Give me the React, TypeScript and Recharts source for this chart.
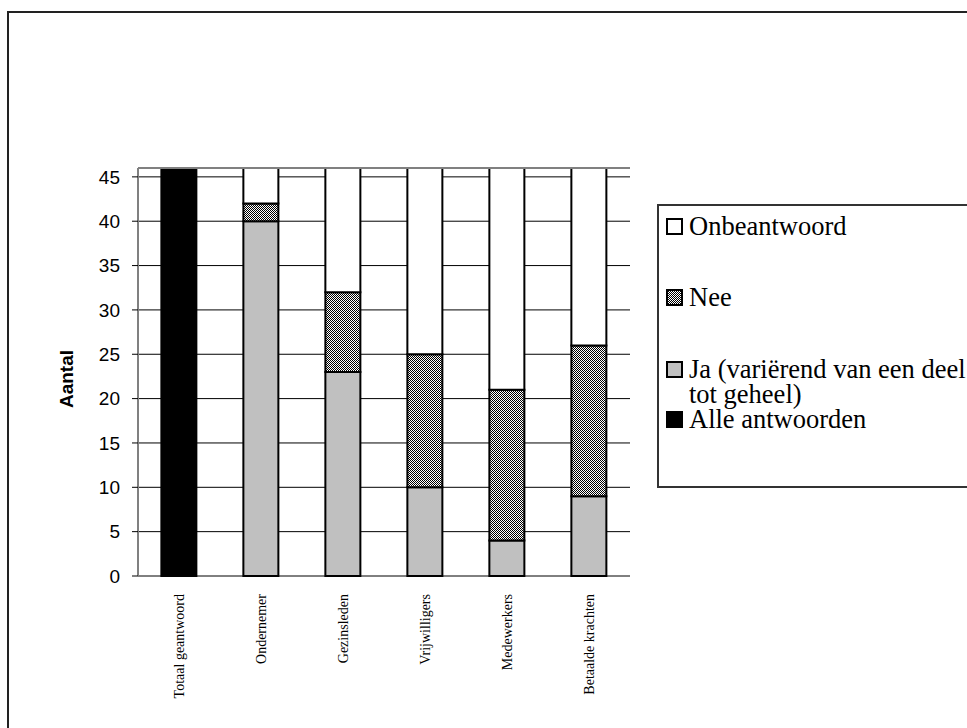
import React from "react";
import { BarChart, Bar, XAxis, YAxis, CartesianGrid, ReferenceLine, Legend } from "recharts";

// categories along the x axis
const categories = [
  "Totaal geantwoord",
  "Ondernemer",
  "Gezinsleden",
  "Vrijwilligers",
  "Medewerkers",
  "Betaalde krachten",
];

// stacked values per category (bottom to top)
const alleAntwoorden = [46, 0, 0, 0, 0, 0];
const ja = [0, 40, 23, 10, 4, 9];
const nee = [0, 2, 9, 15, 17, 17];
const onbeantwoord = [0, 4, 14, 21, 25, 20];

const yTicks = [0, 5, 10, 15, 20, 25, 30, 35, 40, 45];
const boundaryTicks = [0, 1, 2, 3, 4, 5, 6];

const SERIES = [
  { key: "alle", name: "Alle antwoorden", values: alleAntwoorden, fill: "#000000" },
  { key: "ja", name: "Ja (variërend van een deel tot geheel)", values: ja, fill: "#c0c0c0" },
  { key: "nee", name: "Nee", values: nee, fill: "url(#neeCheck)" },
  { key: "onb", name: "Onbeantwoord", values: onbeantwoord, fill: "#ffffff" },
];

const data = categories.map((cat, i) => {
  const row: Record<string, string | number> = { cat };
  SERIES.forEach((s) => {
    row[s.key] = s.values[i];
  });
  return row;
});

const SANS = "'Liberation Sans', Arial, sans-serif";
const SERIF = "'Liberation Serif', 'Times New Roman', serif";

// spacing above each legend row (top to bottom)
const LEGEND_GAPS = [8, 46, 47, 0];

function CatTick({ x, y, payload }: any) {
  return (
    <text
      x={x}
      y={y}
      transform={`rotate(-90, ${x}, ${y})`}
      textAnchor="end"
      dy="0.35em"
      fontFamily={SERIF}
      fontSize={14}
      fill="#000"
    >
      {payload.value}
    </text>
  );
}

function AantalLabel({ viewBox }: any) {
  if (!viewBox) return null;
  const cx = viewBox.x + 16;
  const cy = viewBox.y + viewBox.height / 2 + 7;
  return (
    <text
      x={cx}
      y={cy}
      transform={`rotate(-90, ${cx}, ${cy})`}
      textAnchor="middle"
      dy="0.35em"
      fontFamily={SANS}
      fontWeight="bold"
      fontSize={19}
      fill="#000"
    >
      Aantal
    </text>
  );
}

function LegendBox() {
  const items = [...SERIES].reverse();
  return (
    <div
      style={{
        width: 330,
        height: 284,
        boxSizing: "border-box",
        border: "2px solid #333",
        background: "#fff",
        fontFamily: SERIF,
        fontSize: 26.5,
        lineHeight: "25px",
        color: "#000",
      }}
    >
      {items.map((s, i) => (
        <div
          key={s.key}
          style={{ display: "flex", alignItems: "flex-start", marginTop: LEGEND_GAPS[i], paddingLeft: 7 }}
        >
          <svg width={18} height={18} style={{ flex: "none", marginTop: 4, marginRight: 5 }}>
            <rect x={1} y={1} width={15} height={15} fill={s.fill} stroke="#000" strokeWidth={2} />
          </svg>
          <span style={{ width: 290 }}>{s.name}</span>
        </div>
      ))}
    </div>
  );
}

export default function App() {
  return (
    <div style={{ position: "fixed", left: 0, top: 0, width: 967, height: 728, overflow: "hidden", background: "#fff" }}>
      {/* page frame: only the top and left edges fall inside the picture */}
      <div style={{ position: "absolute", left: 7, top: 11, width: 960, height: 2, background: "#222" }} />
      <div style={{ position: "absolute", left: 7, top: 11, width: 2, height: 717, background: "#222" }} />
      <div style={{ position: "absolute", left: 0, top: 0 }}>
        <BarChart
          width={967}
          height={728}
          data={data}
          margin={{ top: 168, right: 337, bottom: 12, left: 50 }}
          barCategoryGap="28.5%"
        >
          <defs>
            <pattern id="neeCheck" width={2} height={2} patternUnits="userSpaceOnUse">
              <rect x={0} y={0} width={2} height={2} fill="#ffffff" shapeRendering="crispEdges" />
              <rect x={0} y={0} width={1} height={1} fill="#000000" shapeRendering="crispEdges" />
              <rect x={1} y={1} width={1} height={1} fill="#000000" shapeRendering="crispEdges" />
            </pattern>
          </defs>
          <CartesianGrid xAxisId="cat" vertical={false} stroke="#000" strokeWidth={1} />
          <XAxis
            xAxisId="b"
            type="number"
            domain={[0, 6]}
            ticks={boundaryTicks}
            interval={0}
            height={0}
            tick={false}
            tickSize={6}
            tickLine={{ stroke: "#000", strokeWidth: 1 }}
            axisLine={{ stroke: "#808080", strokeWidth: 2 }}
          />
          <XAxis
            xAxisId="cat"
            dataKey="cat"
            interval={0}
            height={140}
            axisLine={false}
            tickLine={false}
            tickSize={0}
            tickMargin={18}
            tick={<CatTick />}
          />
          <YAxis
            domain={[0, 46]}
            ticks={yTicks}
            interval={0}
            width={88}
            axisLine={{ stroke: "#808080", strokeWidth: 2 }}
            tickLine={{ stroke: "#000" }}
            tickSize={6}
            tickMargin={12}
            tick={{ fill: "#000", fontSize: 19, fontFamily: SANS }}
            label={<AantalLabel />}
          />
          <YAxis
            yAxisId="r"
            orientation="right"
            domain={[0, 46]}
            width={0}
            tick={false}
            tickLine={false}
            axisLine={{ stroke: "#808080", strokeWidth: 2 }}
          />
          <ReferenceLine xAxisId="cat" y={46} stroke="#808080" strokeWidth={2} />
          {SERIES.map((s) => (
            <Bar
              key={s.key}
              dataKey={s.key}
              name={s.name}
              stackId="a"
              xAxisId="cat"
              fill={s.fill}
              stroke="#000"
              strokeWidth={2}
              isAnimationActive={false}
            />
          ))}
          <Legend
            layout="vertical"
            align="center"
            verticalAlign="middle"
            wrapperStyle={{ left: 657, top: 204, width: 330 }}
            content={() => <LegendBox />}
          />
        </BarChart>
      </div>
    </div>
  );
}
